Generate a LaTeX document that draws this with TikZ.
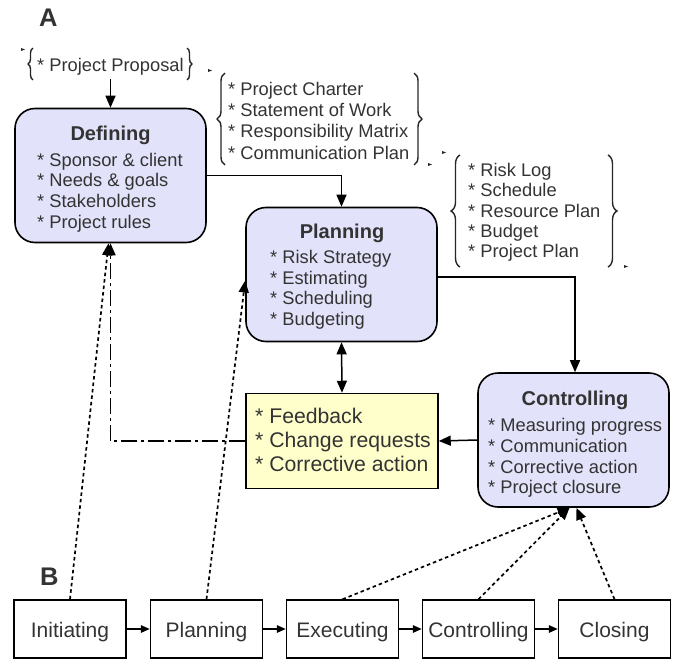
\documentclass[tikz,border=0pt]{standalone}
\usepackage{fontspec}
\setmainfont{Liberation Sans}
\usetikzlibrary{arrows.meta,decorations.pathreplacing,calc}
\definecolor{boxfill}{HTML}{E2E2FA}
\definecolor{notefill}{HTML}{FFFFCC}
\definecolor{ink}{HTML}{333333}

\begin{document}
\begin{tikzpicture}[x=1pt,y=-1pt,
  phase/.style={draw=black, line width=1.6pt, rounded corners=20pt, fill=boxfill,
    minimum width=191pt, minimum height=134pt, inner sep=0pt},
  note/.style={draw=black, line width=1.5pt, fill=notefill,
    minimum width=192pt, minimum height=95pt, inner sep=0pt},
  stage/.style={draw=black, line width=1.5pt, minimum width=112pt, minimum height=58pt,
    inner sep=0pt, text=ink, text height=17pt, text depth=0pt,
    font=\fontsize{21}{24}\selectfont},
  title/.style={anchor=base, inner sep=0pt, text=ink, font=\bfseries\fontsize{20}{24}\selectfont},
  items/.style={anchor=base west, inner sep=0pt, text=ink, font=\fontsize{18.3}{20.7}\selectfont},
  label/.style={anchor=base west, inner sep=0pt, text=ink, font=\bfseries\fontsize{25.5}{28}\selectfont},
  brace/.style={decorate, decoration={brace, amplitude=#1}, line width=1.4pt, draw=black!85},
  tick/.style={fill=black!85},
  arr/.style={-{Triangle[length=12pt,width=10pt]}, line width=1.5pt},
  biarr/.style={{Triangle[length=12pt,width=10pt]}-{Triangle[length=12pt,width=10pt]}, line width=1.5pt},
  small/.style={-{Triangle[length=9pt,width=7.5pt]}, line width=1.5pt},
  dotarr/.style={arr, dash pattern=on 3.5pt off 3pt, line width=1.7pt},
  dasharr/.style={arr, dash pattern=on 16pt off 4pt on 3pt off 4pt, line width=1.7pt},
]
\useasboundingbox (0,0) rectangle (677,661);

% section letters
\node[label] (labA) at (39,26.7) {A};
\node[label] (labB) at (40,585) {B};

% phase boxes
\node[phase] (def) at (110.5,175.5) {};
\node[title] (defT) at (110.5,140) {Defining};
\node[items] (defI) at (37,166) {\begin{tabular}[t]{@{}l@{}}* Sponsor \& client\\{}* Needs \& goals\\{}* Stakeholders\\{}* Project rules\end{tabular}};

\node[phase] (plan) at (341.5,274.5) {};
\node[title] (planT) at (342,238.5) {Planning};
\node[items] (planI) at (270,263.5) {\begin{tabular}[t]{@{}l@{}}* Risk Strategy\\{}* Estimating\\{}* Scheduling\\{}* Budgeting\end{tabular}};

\node[phase] (ctl) at (573.5,440) {};
\node[title] (ctlT) at (575,405) {Controlling};
\node[items] (ctlI) at (488,431.7) {\begin{tabular}[t]{@{}l@{}}* Measuring progress\\{}* Communication\\{}* Corrective action\\{}* Project closure\end{tabular}};

% feedback note
\node[note] (fb) at (342,441) {};
\node[items, font=\fontsize{21.2}{24.3}\selectfont] (fbI) at (255,423.3) {\begin{tabular}[t]{@{}l@{}}* Feedback\\{}* Change requests\\{}* Corrective action\end{tabular}};

% deliverable groups
\node[items] (pp) at (37,71.7) {* Project Proposal};
\draw[brace=5pt] (33,80) -- (33,48);
\draw[brace=5pt] (187,48) -- (187,80);
\fill[tick] (21,48) -- ++(4,1.5) -- ++(-4,1.5) -- cycle;

\node[items, font=\fontsize{18.3}{21.1}\selectfont] (docs) at (228,95.7) {\begin{tabular}[t]{@{}l@{}}* Project Charter\\{}* Statement of Work\\{}* Responsibility Matrix\\{}* Communication Plan\end{tabular}};
\draw[brace=8pt] (225,165) -- (225,73);
\draw[brace=8pt] (414,73) -- (414,165);
\fill[tick] (208,69) -- ++(4,1.5) -- ++(-4,1.5) -- cycle;
\fill[tick] (428,163) -- ++(4,1.5) -- ++(-4,1.5) -- cycle;

\node[items, font=\fontsize{18.3}{20.4}\selectfont] (plans) at (468,176.3) {\begin{tabular}[t]{@{}l@{}}* Risk Log\\{}* Schedule\\{}* Resource Plan\\{}* Budget\\{}* Project Plan\end{tabular}};
\draw[brace=9pt] (460,267) -- (460,155);
\draw[brace=9pt] (608,155) -- (608,267);
\fill[tick] (442,151) -- ++(4,1.5) -- ++(-4,1.5) -- cycle;
\fill[tick] (624,265) -- ++(4,1.5) -- ++(-4,1.5) -- cycle;

% process stages
\node[stage] (sInit) at (70,629) {Initiating};
\node[stage] (sPlan) at (206.5,629) {Planning};
\node[stage] (sExec) at (342.5,629) {Executing};
\node[stage] (sCtl) at (478.5,629) {Controlling};
\node[stage] (sClose) at (614.5,629) {Closing};

% main flow
\draw[arr, shorten <=3pt] (pp.south -| def.north) -- (def.north);
\draw[arr] (def.east) -| (plan.north);
\draw[arr] ([yshift=-2.5pt]plan.east) -| ([xshift=1.5pt]ctl.north);
\draw[arr] (ctl.west) -- (fb.east);
\draw[biarr] (plan.south) -- (fb.north);
\draw[dasharr] (fb.west) -| (def.south);

% stage sequence
\draw[small] (sInit) -- (sPlan);
\draw[small] (sPlan) -- (sExec);
\draw[small] (sExec) -- (sCtl);
\draw[small] (sCtl) -- (sClose);

% stage-to-phase links
\draw[dotarr] (sInit.north) -- ([xshift=-2pt]def.south);
\draw[dotarr] (sPlan.north) -- ([yshift=-6pt]plan.west);
\draw[dotarr] (sExec.north) -- ([xshift=-4pt]ctl.south);
\draw[dotarr] (sCtl.north) -- ([xshift=-4pt]ctl.south);
\draw[dotarr] (sClose.north) -- ([xshift=3pt]ctl.south);
\end{tikzpicture}
\end{document}
